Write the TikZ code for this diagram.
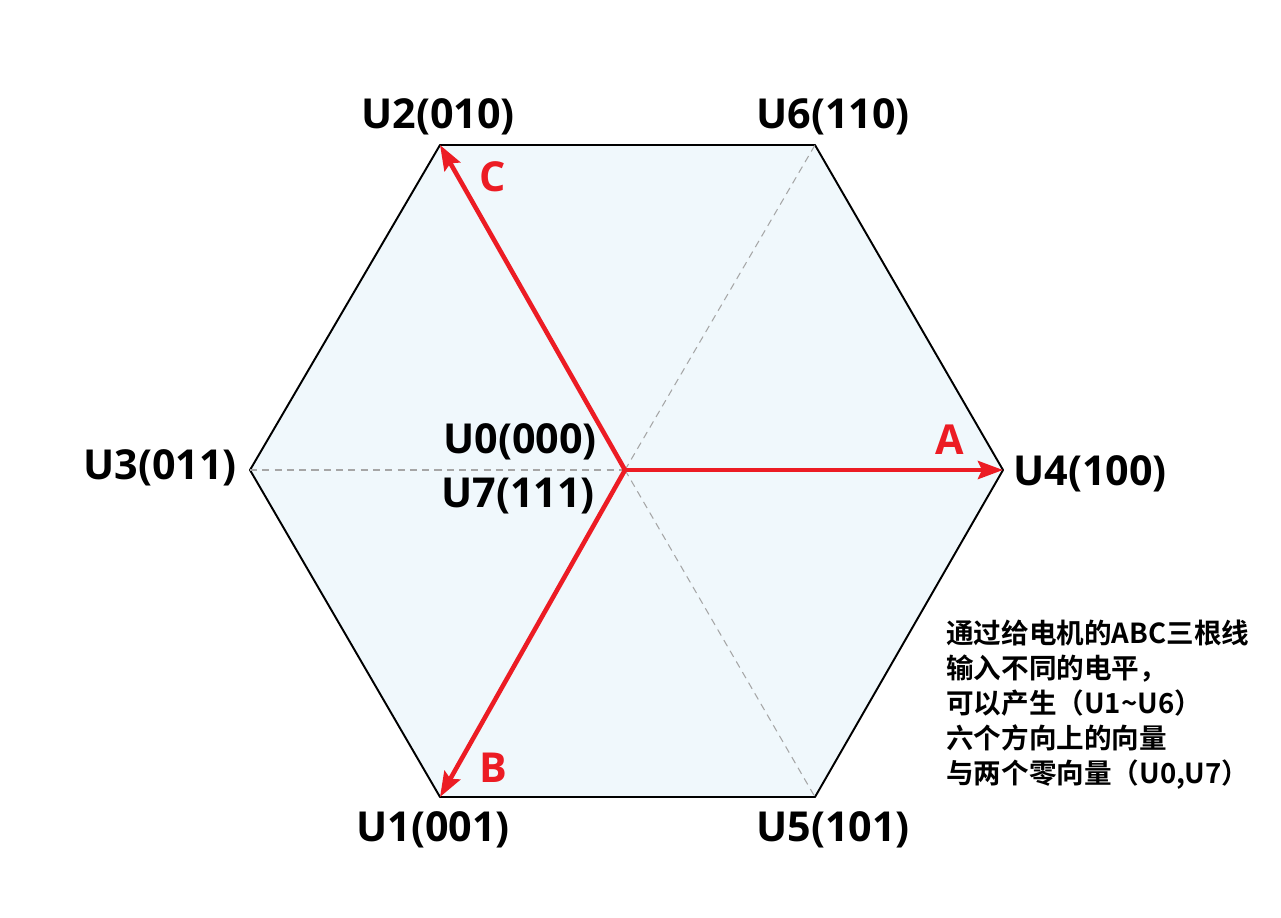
\documentclass[tikz,border=0pt]{standalone}
\usepackage{fontspec}
\setmainfont{Open Sans}
\newfontfamily\cjk{Noto Sans CJK SC}[BoldFont={Noto Sans CJK SC Bold}]
\usetikzlibrary{arrows.meta}
\definecolor{hexfill}{HTML}{F0F8FC}
\definecolor{vecred}{HTML}{EC1C24}
\tikzset{
  lbl/.style={font=\fontsize{23.5}{27}\selectfont\bfseries, text=black, inner sep=0pt},
  vlbl/.style={font=\fontsize{23.5}{27}\selectfont\bfseries, text=vecred, inner sep=0pt},
  vec/.style={draw=vecred, line width=2.6pt, -{Stealth[length=0.5cm,width=0.36cm,inset=0.08cm]}},
  guide/.style={draw=gray!70, line width=0.6pt, dash pattern=on 4pt off 3pt},
  hexedge/.style={draw=black, line width=1.1pt, fill=hexfill, line join=round},
}
\begin{document}
\begin{tikzpicture}[x=0.02cm,y=-0.02cm]
\useasboundingbox (0,0) rectangle (1281,917);
\coordinate (O) at (625,470);
\coordinate (V2) at (440,145);
\coordinate (V6) at (815,145);
\coordinate (V4) at (1003,470);
\coordinate (V5) at (815,797);
\coordinate (V1) at (440,797);
\coordinate (V3) at (250,470);
\path[hexedge] (V2) -- (V6) -- (V4) -- (V5) -- (V1) -- (V3) -- cycle;
\draw[guide] (V3) -- (O);
\draw[guide] (O) -- (V6);
\draw[guide] (O) -- (V5);
\draw[vec] (O) -- (V2);
\draw[vec] (O) -- (V4);
\draw[vec] (O) -- (V1);
\node[lbl] (L2) at (438,117) {U2(010)};
\node[lbl] (L6) at (833,117) {U6(110)};
\node[lbl] (L4) at (1090,474) {U4(100)};
\node[lbl] (L5) at (833,830) {U5(101)};
\node[lbl] (L1) at (433,830) {U1(001)};
\node[lbl] (L3) at (160,468) {U3(011)};
\node[lbl] (L0) at (520,442) {U0(000)};
\node[lbl] (L7) at (518,496) {U7(111)};
\node[vlbl] (C) at (493,177) {C};
\node[vlbl] (A) at (950,440) {A};
\node[vlbl] (B) at (493,768) {B};
\node[anchor=north west, inner sep=0pt, align=left, font=\cjk\bfseries\fontsize{15.7}{19.8}\selectfont] (T) at (946,620)
 {通过给电机的ABC三根线\\输入不同的电平，\\可以产生（U1\textasciitilde U6）\\六个方向上的向量\\与两个零向量（U0,U7）};
\end{tikzpicture}
\end{document}
